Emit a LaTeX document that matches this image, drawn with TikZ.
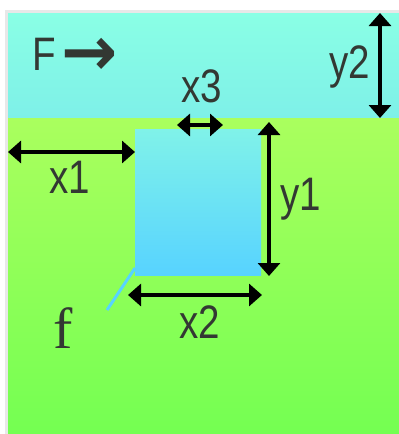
\documentclass[tikz,border=0pt]{standalone}
\usepackage{graphicx}
\usepackage{fontspec}
\setmainfont{Liberation Sans}
\newfontfamily\serifff{Liberation Serif}
\newfontfamily\arrowff{DejaVu Sans}
\usetikzlibrary{arrows.meta}
\definecolor{frame}{HTML}{E8E8E8}
\definecolor{cyantop}{HTML}{8AFFE5}
\definecolor{cyanbot}{HTML}{7EF0E8}
\definecolor{greentop}{HTML}{AAFF5E}
\definecolor{greenbot}{HTML}{74FF52}
\definecolor{boxtop}{HTML}{80F2E9}
\definecolor{boxbot}{HTML}{57D3FF}
\definecolor{txt}{HTML}{333833}
\newcommand{\sq}[1]{\scalebox{0.82}[1]{#1}}
\tikzset{
  dim/.style={line width=3.2pt, black, {Triangle[length=13pt,width=22pt]}-{Triangle[length=13pt,width=22pt]}},
  lbl/.style={inner sep=0pt, anchor=base, text=txt, font=\fontsize{47}{47}\selectfont},
}
\begin{document}
\begin{tikzpicture}[x=1pt,y=-1pt]
\useasboundingbox (0,0) rectangle (399,434);
\fill[white] (0,0) rectangle (399,434);
\fill[frame] (5,10) rectangle (399,434);
\shade[top color=cyantop, bottom color=cyanbot] (8,13) rectangle (399,118);
\shade[top color=greentop, bottom color=greenbot] (8,118) rectangle (399,434);
\shade[top color=boxtop, bottom color=boxbot] (135,129) rectangle (261,275);
\draw[boxbot, line width=3pt] (135,268) -- (107,310);
% dimension coordinates
\coordinate (x1a) at (8,152);   \coordinate (x1b) at (135,152);
\coordinate (x2a) at (128,295); \coordinate (x2b) at (262,295);
\coordinate (x3a) at (177,125); \coordinate (x3b) at (223,125);
\coordinate (y1a) at (269,122); \coordinate (y1b) at (269,276);
\coordinate (y2a) at (380,13);  \coordinate (y2b) at (380,118);
\draw[dim] (x1a) -- (x1b);
\draw[dim] (x2a) -- (x2b);
\draw[dim] (x3a) -- (x3b);
\draw[dim] (y1a) -- (y1b);
\draw[dim] (y2a) -- (y2b);
% labels
\node[lbl] (lx1) at (70,193) {\sq{x1}};
\node[lbl] (lx2) at (200,338) {\sq{x2}};
\node[lbl] (lx3) at (202,102) {\sq{x3}};
\node[lbl] (ly1) at (301,210) {\sq{y1}};
\node[lbl] (ly2) at (350,78) {\sq{y2}};
\node[lbl, anchor=base west] (lF) at (32,70) {\sq{F}\hspace{6pt}{\arrowff\bfseries\fontsize{60}{60}\selectfont\raisebox{-5pt}{\scalebox{1.12}[1.15]{→}}}};
\node[inner sep=0pt, anchor=base, text=txt, font=\serifff\fontsize{58}{58}\selectfont] (lf) at (63,348) {f};
\end{tikzpicture}
\end{document}
